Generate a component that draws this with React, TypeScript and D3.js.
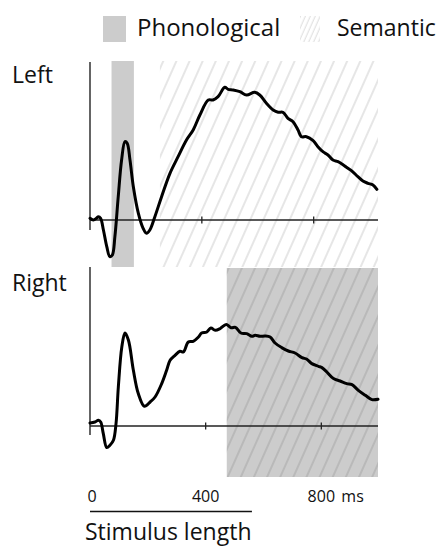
import React from 'react';
import * as d3 from 'd3';

// Left hemisphere time course (ms after stimulus onset, amplitude in arbitrary units)
const leftMs = [0, 12, 24, 30, 38, 48, 60, 71, 80, 89, 101, 113, 125, 133, 143, 155, 173, 190, 202, 214, 232, 256, 286, 315, 345, 369, 393, 423, 440, 458, 482, 494, 512, 536, 560, 589, 607, 631, 655, 673, 690, 708, 726, 744, 756, 774, 798, 815, 833, 851, 869, 887, 911, 935, 958, 976, 994, 1012, 1026];
const leftAmp = [0.17, 0, 0.2, 0.33, 0.17, -1.0, -2.67, -3.67, -3.5, -1.67, 2.33, 6.0, 7.83, 7.67, 6.0, 3.33, 0.67, -0.83, -1.33, -1.0, 0.33, 2.33, 4.67, 6.33, 8.0, 9.0, 10.5, 12.0, 12.0, 12.33, 13.27, 13.07, 13.0, 12.83, 12.5, 12.77, 12.5, 11.67, 11.0, 10.77, 10.77, 10.17, 9.83, 9.0, 8.33, 8.33, 7.93, 7.33, 6.83, 6.5, 6.0, 5.83, 5.4, 4.93, 4.33, 3.9, 3.67, 3.5, 3.07];

// Right hemisphere time course
const rightMs = [0, 17, 29, 37, 46, 58, 69, 81, 90, 98, 110, 121, 133, 150, 167, 188, 208, 225, 248, 265, 277, 294, 311, 323, 340, 357, 375, 386, 404, 418, 433, 450, 471, 488, 503, 522, 542, 560, 571, 588, 606, 623, 640, 663, 686, 709, 733, 750, 767, 790, 802, 819, 842, 865, 888, 906, 928, 952, 975, 996];
const rightAmp = [0.3, 0.4, 0.57, 0.4, -0.76, -2.16, -1.93, -1.43, 0.24, 3.9, 7.9, 9.3, 8.57, 5.57, 3.24, 1.97, 2.4, 2.9, 4.24, 5.57, 6.57, 7.07, 7.47, 7.4, 8.4, 8.47, 8.9, 9.3, 9.4, 9.8, 9.57, 9.74, 10.15, 9.82, 9.87, 9.3, 9.24, 8.97, 9.07, 8.97, 9.0, 8.9, 8.3, 7.84, 7.5, 7.3, 6.84, 6.67, 6.24, 5.97, 5.84, 5.4, 4.74, 4.5, 4.24, 4.14, 3.57, 3.07, 2.64, 2.67];

// Effect windows (ms)
const leftPhonological = [77, 157];
const leftSemantic = [250, 1030];
const rightPhonological = [473, 996];
const rightSemantic = [473, 996];

const axisTicks = [0, 400, 800];
const axisTickLabels = ['0', '400', '800'];
const axisUnit = 'ms';
const panelNames = ['Left', 'Right'];
const legendLabels = ['Phonological', 'Semantic'];
const scaleBarMs = [0, 560];
const scaleBarLabel = 'Stimulus length';

const FONT = '"Open Sans", "Noto Sans", sans-serif';
const GREY = '#cccccc';

type PanelProps = {
  name: string;
  ms: number[];
  amp: number[];
  x: d3.ScaleLinear<number, number>;
  y: d3.ScaleLinear<number, number>;
  bandTop: number;
  bandBottom: number;
  phon: number[];
  sem: number[];
  semPattern: string;
  labelY: number;
  showTicks: number[];
};

function Panel({ name, ms, amp, x, y, bandTop, bandBottom, phon, sem, semPattern, labelY, showTicks }: PanelProps) {
  const pts: [number, number][] = ms.map((t, i) => [t, amp[i]]);
  const line = d3
    .line<[number, number]>()
    .x((d) => x(d[0]))
    .y((d) => y(d[1]))
    .curve(d3.curveCatmullRom.alpha(0.5));
  const [x0, x1] = x.domain();
  const [y0, y1] = y.domain();
  return (
    <g>
      <rect x={x(phon[0])} y={bandTop} width={x(phon[1]) - x(phon[0])} height={bandBottom - bandTop} fill={GREY} />
      <rect x={x(sem[0])} y={bandTop} width={x(sem[1]) - x(sem[0])} height={bandBottom - bandTop} fill={`url(#${semPattern})`} />
      <line x1={x(x0)} x2={x(x0)} y1={y(y0)} y2={y(y1)} stroke="#111" strokeWidth={1.3} />
      <line x1={x(x0)} x2={x(x1)} y1={y(0)} y2={y(0)} stroke="#222" strokeWidth={1.3} />
      {showTicks.map((t) => (
        <line key={t} x1={x(t)} x2={x(t)} y1={y(0) - 3.5} y2={y(0) + 3.5} stroke="#222" strokeWidth={1.3} />
      ))}
      <path d={line(pts) || ''} fill="none" stroke="#000" strokeWidth={3} strokeLinejoin="round" strokeLinecap="round" />
      <text x={12} y={labelY} fontSize={23} fontFamily={FONT} fill="#111">
        {name}
      </text>
    </g>
  );
}

export default function App() {
  const xLeft = d3.scaleLinear().domain([0, 1030]).range([90, 378]);
  const xRight = d3.scaleLinear().domain([0, 996]).range([90, 378]);
  const yLeft = d3.scaleLinear().domain([-1, 15.8]).range([230, 62]);
  const yRight = d3.scaleLinear().domain([-0.9, 15.9]).range([435, 267]);

  return (
    <svg width={445} height={547} style={{ position: 'absolute', left: 0, top: 0, background: '#fff' }}>
      <defs>
        <pattern id="hatchLight" patternUnits="userSpaceOnUse" width={12} height={12} patternTransform="rotate(24)">
          <line x1={6} y1={-1} x2={6} y2={13} stroke="#b8b8b8" strokeWidth={0.7} />
        </pattern>
        <pattern id="hatchDark" patternUnits="userSpaceOnUse" width={12} height={12} patternTransform="rotate(24)">
          <line x1={6} y1={-1} x2={6} y2={13} stroke="#959595" strokeWidth={0.7} />
        </pattern>
        <pattern id="hatchLegend" patternUnits="userSpaceOnUse" width={4.5} height={4.5} patternTransform="rotate(24)">
          <line x1={2} y1={-1} x2={2} y2={6} stroke="#c4c4c4" strokeWidth={0.6} />
        </pattern>
      </defs>

      {/* legend */}
      <rect x={103} y={16} width={23} height={26} fill={GREY} />
      <text x={137} y={36} fontSize={24} fontFamily={FONT} fill="#111">
        {legendLabels[0]}
      </text>
      <rect x={300} y={16} width={20} height={26} fill="url(#hatchLegend)" />
      <text x={337} y={36} fontSize={23} fontFamily={FONT} fill="#111">
        {legendLabels[1]}
      </text>

      <Panel
        name={panelNames[0]}
        ms={leftMs}
        amp={leftAmp}
        x={xLeft}
        y={yLeft}
        bandTop={61}
        bandBottom={267}
        phon={leftPhonological}
        sem={leftSemantic}
        semPattern="hatchLight"
        labelY={83}
        showTicks={axisTicks.slice(1)}
      />
      <Panel
        name={panelNames[1]}
        ms={rightMs}
        amp={rightAmp}
        x={xRight}
        y={yRight}
        bandTop={268}
        bandBottom={477}
        phon={rightPhonological}
        sem={rightSemantic}
        semPattern="hatchDark"
        labelY={291}
        showTicks={axisTicks.slice(1)}
      />

      {/* time axis labels */}
      {axisTicks.map((t, i) => (
        <text key={t} x={xRight(t) + (i === 0 ? 2 : 0)} y={502} fontSize={16} fontFamily={FONT} textAnchor="middle" fill="#111">
          {axisTickLabels[i]}
        </text>
      ))}
      <text x={xRight(axisTicks[axisTicks.length - 1]) + 20} y={502} fontSize={16} fontFamily={FONT} fill="#111">
        {axisUnit}
      </text>

      {/* stimulus duration bar */}
      <line x1={xRight(scaleBarMs[0])} x2={xRight(scaleBarMs[1])} y1={511.5} y2={511.5} stroke="#111" strokeWidth={1.6} />
      <text x={85} y={540} fontSize={23} fontFamily={FONT} fill="#111">
        {scaleBarLabel}
      </text>
    </svg>
  );
}
